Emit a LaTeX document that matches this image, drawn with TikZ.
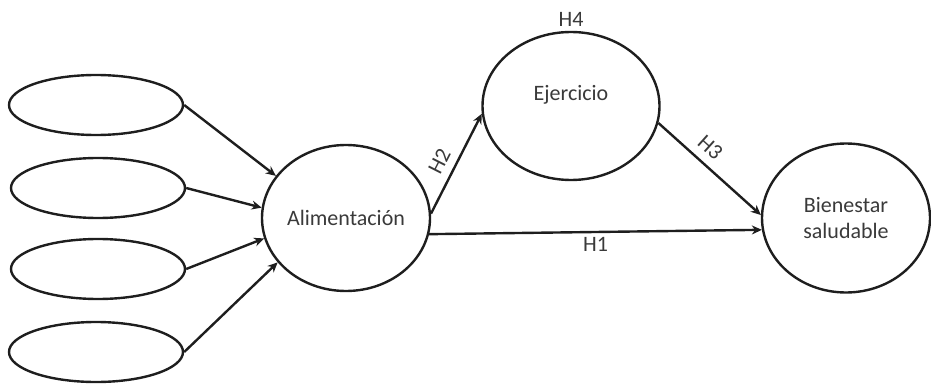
\documentclass[tikz,border=0pt]{standalone}
\usepackage{fontspec}
\setmainfont{Carlito}
\usepackage{tikz}
\usetikzlibrary{shapes.geometric,arrows.meta,positioning}
\usepackage{xcolor}
\definecolor{mdInk}{HTML}{1E1E1E}
\definecolor{mdText}{HTML}{3A3A3A}
\tikzset{
  lat/.style={ellipse, draw=mdInk, line width=1.2pt, inner sep=0pt, align=center, text=mdText, font=\fontsize{11}{13}\selectfont},
  ind/.style={lat, minimum width=87pt, minimum height=30pt},
  arr/.style={-{Stealth[length=5pt,width=4.5pt]}, line width=1.2pt, draw=mdInk},
  hyp/.style={text=mdText, font=\fontsize{11}{13}\selectfont, inner sep=2pt},
}
\begin{document}
\begin{tikzpicture}[x=0.5pt, y=-0.5pt]
    \useasboundingbox (0,0) rectangle (931,385);
    % ---------- indicators ----------
    \node[ind] (ind1) at (96,105) {};
    \node[ind] (ind2) at (98,188) {};
    \node[ind] (ind3) at (98,269) {};
    \node[ind] (ind4) at (96,352) {};
    % ---------- constructs ----------
    \node[lat, minimum width=84pt, minimum height=73pt] (alim) at (346,218) {Alimentación};
    \node[lat, minimum width=88.5pt, minimum height=74pt] (eje) at (571,106) {};
    \node[hyp] (ejeT) at (571,95) {Ejercicio};
    \node[lat, minimum width=84pt, minimum height=74.5pt] (bien) at (846,218) {Bienestar\\saludable};
    \node[hyp, above=0pt of eje] (h4) {H4};
    % ---------- paths ----------
    \draw[arr] (ind1.east) -- (alim.149);
    \draw[arr] (ind2.east) -- (alim.173);
    \draw[arr] (ind3.east) -- (alim.194);
    \draw[arr] (ind4.east) -- (alim.213);
    \draw[arr] (alim.3) -- node[hyp, pos=0.45, sloped, above, inner sep=4pt] (h2) {H2} (eje.185);
    \draw[arr] (eje.349) -- node[hyp, pos=0.4, sloped, above, inner sep=4pt] (h3) {H3} (bien.178);
    \draw[arr] (alim.349) -- node[hyp, midway, below] (h1) {H1} (bien.188);
\end{tikzpicture}
\end{document}
